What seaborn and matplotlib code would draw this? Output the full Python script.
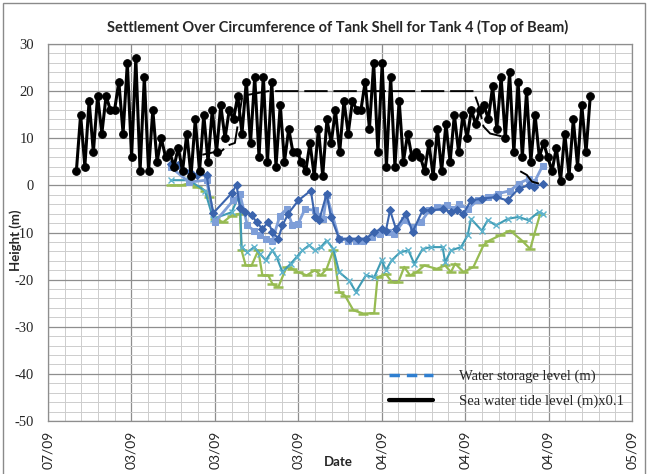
import numpy as np
import pandas as pd
import matplotlib
matplotlib.use("Agg")
import matplotlib.pyplot as plt
from matplotlib.lines import Line2D
from matplotlib.patches import Rectangle
from matplotlib.ticker import MultipleLocator, FixedLocator, FixedFormatter
import seaborn as sns

# x axis is in days from the first date label
date_labels = ["07/09", "03/09", "03/09", "03/09", "04/09", "04/09", "04/09", "05/09"]
date_ticks = [0, 10, 20, 30, 40, 50, 60, 70]
height_ticks = [30, 20, 10, 0, -10, -20, -30, -40, -50]

# sea water tide level (m) x0.1, high / low readings
tide_start, tide_end = 3.4, 65.0
tide = [3, 15, 4, 18, 7, 19, 11, 19, 16, 16,
        22, 11, 26, 6, 27, 3, 23, 3, 16, 5,
        10, 6, 7, 4, 8, 3, 11, 2, 14, 3,
        15, 5, 16, 7, 17, 10, 16, 14, 19, 11,
        22, 9, 23, 6, 23, 5, 22, 4, 17, 5,
        12, 7, 7, 5, 3, 9, 2, 12, 2, 14,
        9, 16, 7, 18, 11, 18, 16, 16, 22, 12,
        26, 7, 26, 4, 23, 4, 18, 5, 11, 6,
        7, 6, 3, 9, 2, 12, 3, 13, 5, 15,
        7, 15, 10, 16, 13, 16, 17, 14, 21, 12,
        23, 10, 24, 7, 22, 6, 20, 5, 15, 6,
        9, 6, 3, 8, 1, 11, 2, 14, 4, 17,
        7, 19]

# water storage level (m)
storage_day = [18.5, 19.8, 20.6, 21.6, 22.4, 23.3, 26.4, 51.0, 51.6, 52.2, 53.0, 54.4,
               55.5, 56.6, 57.4, 58.0, 59.4]
storage_val = [6.5, 7, 7, 8.5, 9, 19, 20, 20, 17, 12.5, 11, 10.4,
               np.nan, 3, 2.2, 0.8, 0.1]

# settlement points (four survey points on the shell)
p1_day = [14.7, 15.6, 17.0, 17.8, 19.0, 19.8, 22.0, 22.6, 23.0, 23.6,
          24.4, 25.0, 25.7, 26.4, 26.9, 27.6, 28.1, 28.8, 30.0, 31.5,
          32.0, 32.5, 33.4, 33.9, 34.9, 36.1, 37.1, 38.1, 39.1, 40.0,
          40.5, 41.0, 41.7, 42.9, 43.7, 44.9, 45.9, 47.3, 48.3, 49.0,
          49.8, 50.7, 52.0, 53.7, 55.1, 56.4, 57.6, 58.3, 59.3]
p1_val = [4.6, 4.3, 2.9, 2.2, 2.2, -5.9, -1.7, 0.1, -4.8, -5.6,
          -6.3, -7.8, -9.2, -7.8, -9.9, -11.3, -8.5, -6.0, -3.2, -1.1,
          -6.7, -7.4, -1.8, -6.7, -11.3, -11.3, -11.3, -11.3, -9.9, -9.2,
          -9.6, -5.3, -9.2, -6.0, -9.9, -5.3, -5.3, -5.0, -5.7, -5.3,
          -6.0, -3.2, -2.8, -2.5, -3.2, -0.7, 0.0, -0.3, 0.3]

p2_day = [14.7, 16.9, 19.0, 20.0, 22.2, 23.0, 23.9, 24.7, 25.4, 26.1,
          26.9, 27.8, 28.6, 29.3, 30.0, 30.8, 32.0, 33.0, 33.4, 34.9,
          35.9, 36.9, 37.8, 38.8, 39.8, 40.8, 41.5, 42.7, 43.7, 44.7,
          45.7, 46.6, 47.8, 48.6, 49.3, 50.3, 51.5, 52.7, 53.9, 55.4,
          56.4, 57.6, 58.3, 59.3]
p2_val = [3.9, 0.7, 1.1, -7.8, -3.2, -1.8, -8.5, -9.6, -10.6, -11.3,
          -11.7, -6.4, -5.0, -8.5, -8.1, -5.0, -5.3, -7.1, -2.1, -11.3,
          -11.7, -11.7, -11.7, -11.0, -10.3, -9.9, -10.3, -7.4, -8.8, -7.8,
          -5.3, -4.6, -4.2, -5.0, -3.9, -5.0, -3.2, -2.5, -1.8, -1.1,
          0.35, 1.4, 0.7, 4.2]

p3_day = [14.7, 16.9, 18.8, 19.8, 22.0, 23.0, 23.2, 23.9, 24.7, 25.4,
          26.1, 26.9, 27.4, 28.1, 29.1, 29.8, 30.5, 31.3, 32.0, 32.7,
          33.4, 34.2, 34.9, 36.1, 36.9, 38.1, 39.1, 40.0, 40.5, 41.2,
          42.2, 43.2, 43.9, 44.9, 45.9, 47.3, 47.6, 48.3, 49.5, 50.3,
          50.7, 52.0, 52.7, 53.7, 55.1, 56.4, 57.6, 58.8, 59.3]
p3_val = [1.1, 1.1, -1.1, -7.1, -5.7, -1.8, -13.1, -14.2, -13.1, -14.5,
          -15.9, -13.8, -15.2, -18.4, -16.6, -15.2, -13.8, -12.7, -13.8, -13.1,
          -11.7, -13.5, -18.4, -20.2, -22.6, -19.1, -19.5, -15.9, -18.0, -15.9,
          -14.2, -13.8, -16.6, -13.5, -13.1, -13.1, -16.3, -13.8, -13.1, -10.6,
          -7.1, -9.6, -7.4, -8.5, -7.1, -6.7, -7.4, -5.7, -6.0]

p4_day = [14.7, 15.9, 16.9, 17.9, 18.8, 19.3, 20.0, 21.0, 22.0, 23.0,
          23.2, 23.7, 24.4, 25.2, 25.7, 26.4, 26.9, 27.6, 28.6, 29.3,
          30.0, 31.0, 32.0, 32.7, 33.4, 34.2, 34.9, 35.6, 36.6, 37.8,
          39.1, 39.5, 40.5, 41.2, 42.0, 42.7, 43.4, 44.2, 45.1, 46.6,
          47.6, 48.3, 48.8, 49.8, 51.0, 52.2, 52.9, 54.2, 55.4, 56.8,
          57.8, 58.3, 59.0]
p4_val = [0.0, 0.0, 0.35, -0.35, -1.1, -2.5, -7.1, -7.8, -6.4, -6.0,
          -13.8, -17.0, -17.0, -13.8, -19.1, -19.1, -20.9, -21.6, -17.3, -17.7,
          -18.4, -19.1, -18.0, -19.1, -17.7, -13.8, -22.6, -23.4, -26.5, -27.2,
          -27.1, -19.5, -18.8, -20.5, -20.5, -17.3, -19.1, -18.4, -17.0, -17.7,
          -17.0, -18.4, -16.6, -18.4, -17.3, -12.7, -11.7, -10.6, -9.6, -11.7,
          -13.5, -10.3, -6.0]

tide_df = pd.DataFrame({"day": np.linspace(tide_start, tide_end, len(tide)), "level": tide})
storage_df = pd.DataFrame({"day": storage_day, "level": storage_val})

sns.set_style("white")
fig = plt.figure(figsize=(6.48, 4.74), dpi=100)
ax = fig.add_axes([48 / 648, 1 - 421 / 474, 584 / 648, 377 / 474])

# settlement lines (seaborn defaults marker edges to white, so set them)
sns.lineplot(x=p4_day, y=p4_val, ax=ax, color="#97bb52", lw=1.6, linestyle="-",
             marker="_", markersize=7, mew=1.8, mec="#97bb52", sort=False, estimator=None)
sns.lineplot(x=p3_day, y=p3_val, ax=ax, color="#3f9bb4", lw=1.5, linestyle="-",
             marker="x", markersize=5, mew=1.0, mec="#5fb3cc", sort=False, estimator=None)
sns.lineplot(x=p2_day, y=p2_val, ax=ax, color="#7e9ed8", lw=2, linestyle="-",
             marker="s", markersize=5, mec="#7e9ed8", sort=False, estimator=None)
sns.lineplot(x=p1_day, y=p1_val, ax=ax, color="#3b64ad", lw=1.5, linestyle="-",
             marker="D", markersize=4, mec="#3b64ad", sort=False, estimator=None)

# tide and water storage
sns.lineplot(data=tide_df, x="day", y="level", ax=ax, color="black", lw=2.2,
             linestyle="-", marker="o", markersize=5.5, mec="black", sort=False,
             estimator=None)
ax.plot(storage_df["day"], storage_df["level"], color="black", lw=1.4,
        linestyle=(0, (12, 3)))

ax.set_xlim(0, 70)
ax.set_ylim(-50, 30)
ax.xaxis.set_major_locator(FixedLocator(date_ticks))
ax.xaxis.set_major_formatter(FixedFormatter(date_labels))
ax.xaxis.set_minor_locator(MultipleLocator(2))
ax.yaxis.set_major_locator(FixedLocator(height_ticks))
ax.yaxis.set_major_formatter(FixedFormatter([str(v) for v in height_ticks]))
ax.yaxis.set_minor_locator(MultipleLocator(2))
ax.grid(which="major", color="#8e8e8e", lw=0.9)
ax.grid(which="minor", color="#cdcdcd", lw=0.7)
ax.set_axisbelow(True)
for s in ax.spines.values():
    s.set_color("#8e8e8e")
    s.set_linewidth(0.9)
ax.tick_params(which="both", length=0)
ax.tick_params(axis="y", pad=10, labelsize=10.5)
ax.tick_params(axis="x", pad=7, labelsize=10)
for t in ax.get_yticklabels():
    t.set_fontfamily("Liberation Serif")
for t in ax.get_xticklabels():
    t.set_fontfamily("Lato")
    t.set_rotation(90)
    t.set_va("top")
ax.set_xlabel("")
ax.set_ylabel("")

fig.text(338 / 648, 1 - 27 / 474, "Settlement Over Circumference of Tank Shell for Tank 4 (Top of Beam)",
         ha="center", va="center", fontsize=10.5, fontweight="bold", family="Lato")
fig.text(338 / 648, 1 - 462 / 474, "Date", ha="center", va="center",
         fontsize=9.5, fontweight="bold", family="Lato")
fig.text(16 / 648, 1 - 240 / 474, "Height (m)", ha="center", va="center", rotation=90,
         fontsize=9.5, fontweight="bold", family="Lato")

handles = [Line2D([], [], color="#2f7fd0", lw=2.5, linestyle=(0, (3, 2))),
           Line2D([], [], color="black", lw=3)]
leg = ax.legend(handles, ["Water storage level (m)", "Sea water tide level (m)x0.1"],
                loc="lower right", bbox_to_anchor=(634 / 648, 1 - 418 / 474),
                bbox_transform=fig.transFigure, frameon=False, handlelength=3.0,
                handletextpad=1.8, labelspacing=0.75, borderpad=0.2,
                prop={"family": "Liberation Serif", "size": 10.5})

fig.patches.append(Rectangle((3 / 648, -0.01), 642 / 648, 1.0 - 3 / 474 + 0.01, fill=False,
                             edgecolor="#8a8a8a", lw=1, transform=fig.transFigure))

fig.savefig("out.png", dpi=100)
